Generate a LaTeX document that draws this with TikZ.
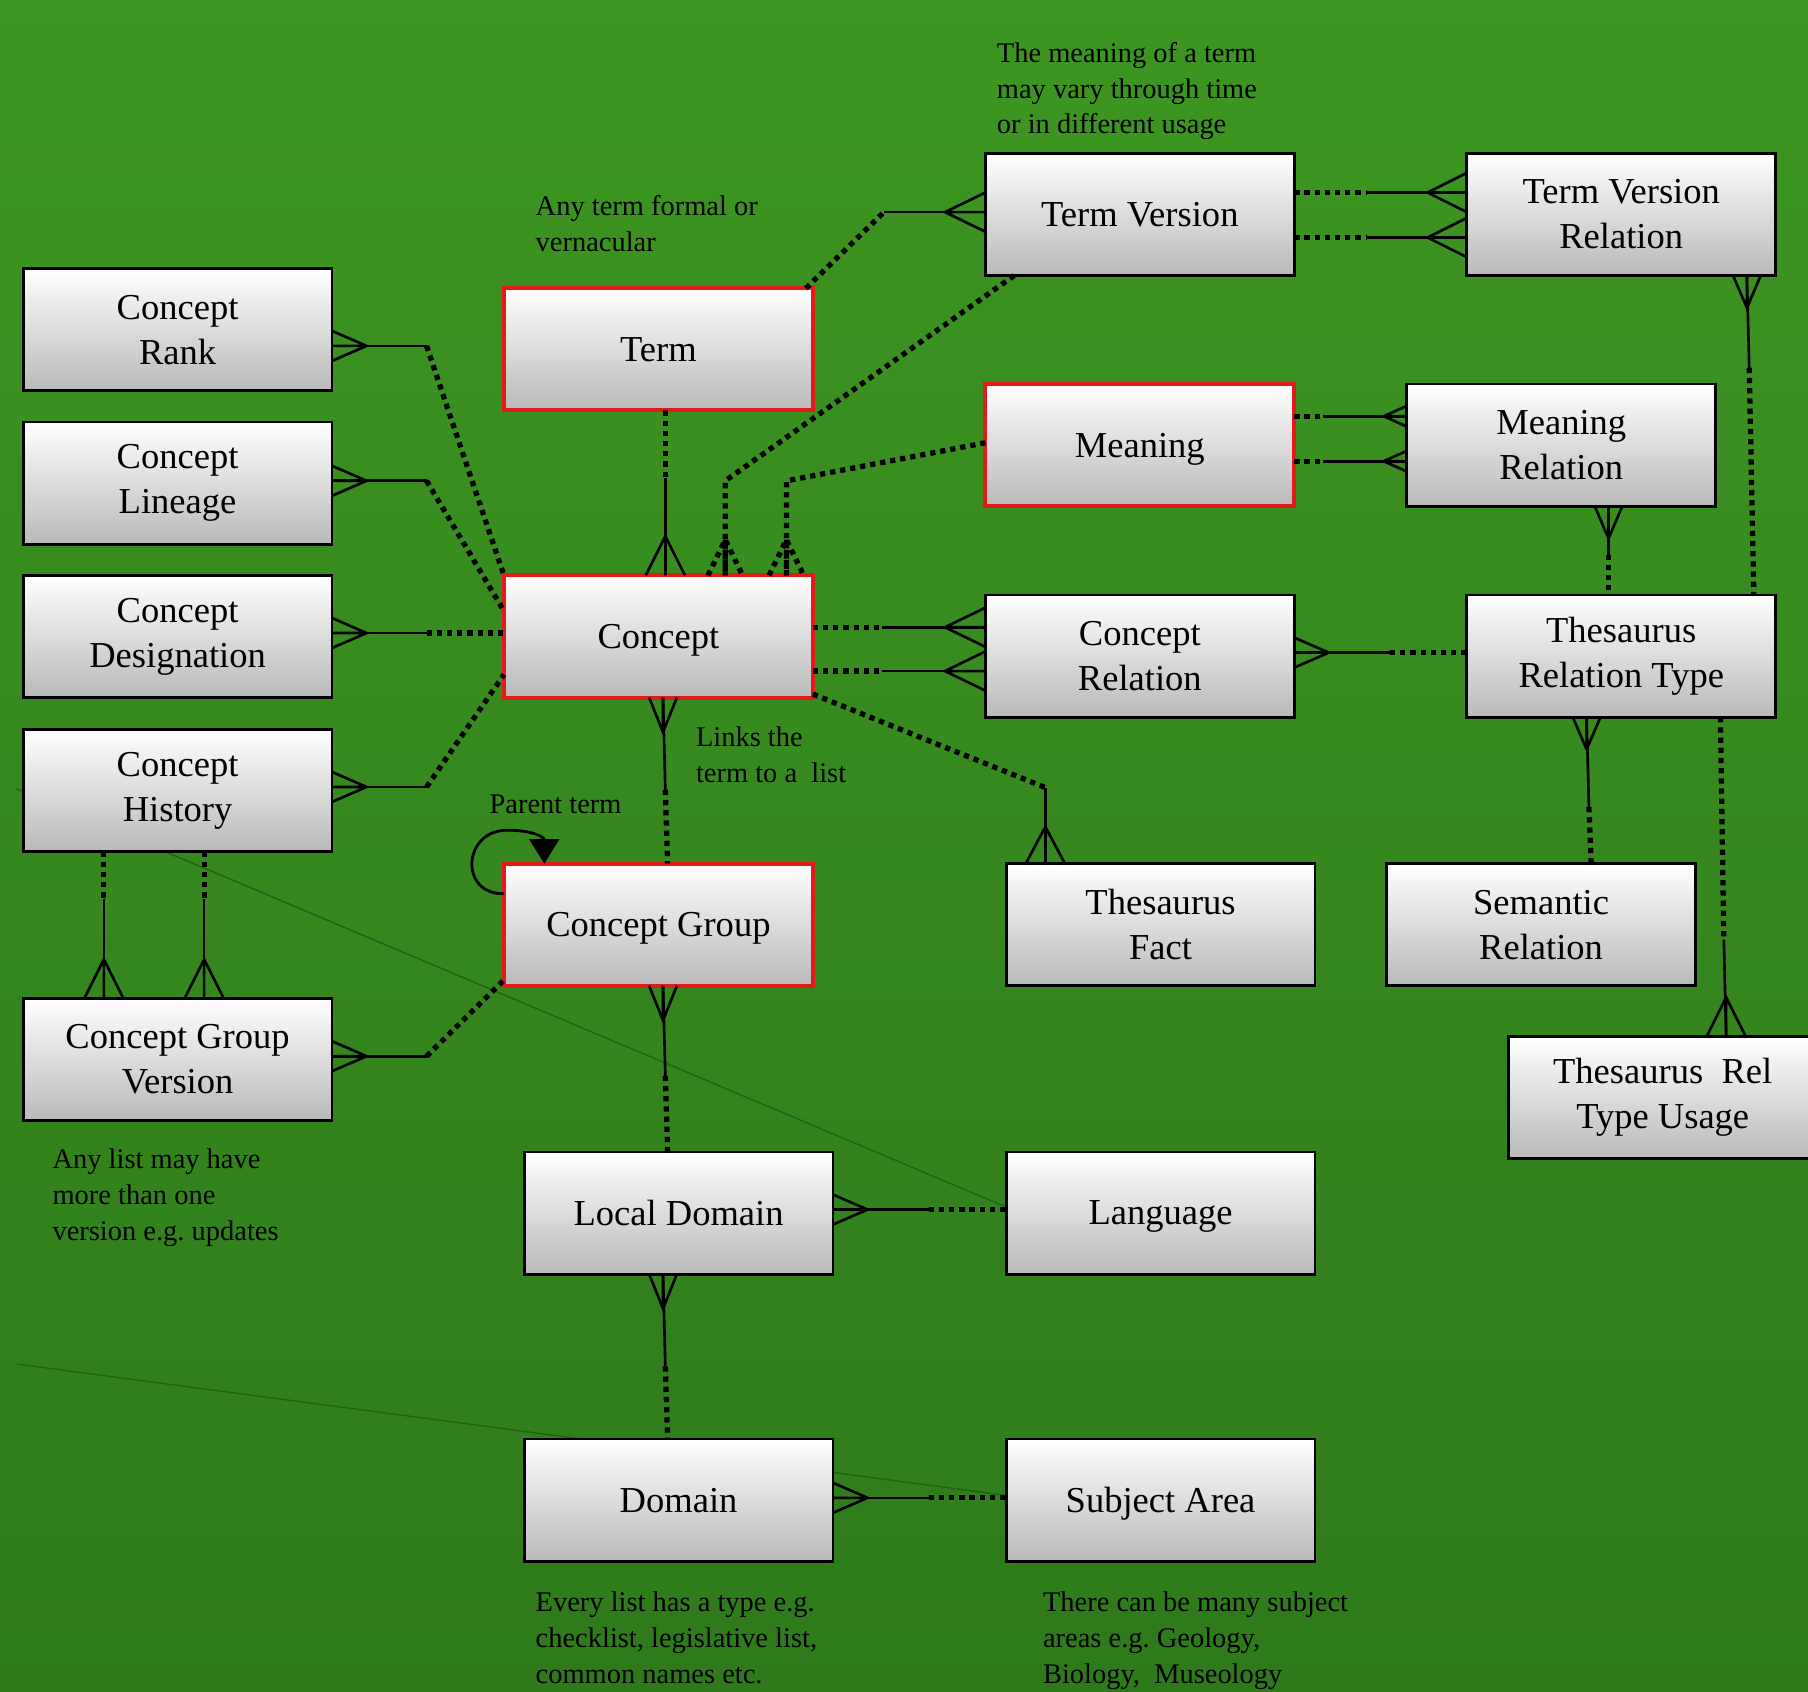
\documentclass[tikz,border=0pt]{standalone}
\usepackage{fontspec}
\setmainfont{Liberation Serif}
\usetikzlibrary{calc,arrows.meta}
\frenchspacing

\definecolor{bgtop}{RGB}{61,150,33}
\definecolor{bgbot}{RGB}{46,122,27}
\definecolor{boxbot}{RGB}{185,185,185}
\definecolor{keyred}{RGB}{226,26,26}
\definecolor{faint}{RGB}{38,96,22}

\tikzset{
  entity/.style={draw=black, line width=0.8pt, top color=white, bottom color=boxbot,
    minimum width=3.09cm, minimum height=1.222cm, inner sep=0pt, outer sep=0pt,
    align=center, font=\fontsize{10.4}{12.8}\selectfont},
  keyentity/.style={entity, draw=keyred, line width=1.15pt},
  flat/.style={text depth=0pt},
  note/.style={anchor=north west, align=left, inner sep=0pt,
    font=\fontsize{8.1}{10.2}\selectfont},
  solidlink/.style={solid, line width=0.75pt},
  optlink/.style={line width=1.5pt, dash pattern=on 1.5pt off 1.4pt},
  pics/crow/.style n args={3}{code={
    \draw[#3] (0,-#2) -- (#1,0) -- (0,#2) (0,0) -- (#1,0);}},
}

\begin{document}
\begin{tikzpicture}[x=0.011531cm, y=-0.011531cm]
  \useasboundingbox (0,0) rectangle (1568,1467);
  \shade[top color=bgtop, bottom color=bgbot] (0,0) rectangle (1568,1467);

  % stray guide lines
  \draw[faint, line width=0.4pt] (14,684) -- (873,1047);
  \draw[faint, line width=0.4pt] (15,1183) -- (873,1297);

  % entities
  \node[entity] (rank)        at (154,286)    {Concept\\Rank};
  \node[entity] (lineage)     at (154,419)    {Concept\\Lineage};
  \node[entity] (designation) at (154,552)    {Concept\\Designation};
  \node[entity] (history)     at (154,685.5)  {Concept\\History};
  \node[entity] (cgversion)   at (154,919)    {Concept Group\\Version};

  \node[keyentity] (term)     at (571,303)    {Term};
  \node[keyentity, flat] (concept) at (571,552) {Concept};
  \node[keyentity, flat] (cgroup)  at (571,802) {Concept Group};
  \node[entity] (localdomain) at (588.5,1052) {Local Domain};
  \node[entity] (domain)      at (588.5,1301) {Domain};

  \node[entity] (termversion) at (988.5,186)  {Term Version};
  \node[keyentity, flat] (meaning) at (988.5,386) {Meaning};
  \node[entity] (conceptrel)  at (988.5,569)  {Concept\\Relation};
  \node[entity] (thesfact)    at (1006.5,802) {Thesaurus\\Fact};
  \node[entity, flat] (language)    at (1006.5,1052) {Language};
  \node[entity, flat] (subjectarea) at (1006.5,1301) {Subject Area};

  \node[entity] (tvrelation)  at (1406,186)   {Term Version\\Relation};
  \node[entity] (meaningrel)  at (1354,386)   {Meaning\\Relation};
  \node[entity] (threltype)   at (1406,569)   {Thesaurus\\Relation Type};
  \node[entity] (semantic)    at (1336.5,802) {Semantic\\Relation};
  \node[entity] (reltypeusage) at (1442,952)  {Thesaurus \ Rel\\Type Usage};

  % notes
  \node[note] (tvnote)      at (864,36)    {The meaning of a term\\may vary through time\\or in different usage};
  \node[note] (termnote)    at (464,169)   {Any term formal or\\vernacular};
  \node[note] (linksnote)   at (603,630)   {Links the\\term to a \ list};
  \node[note] (parentnote)  at (424,689)   {Parent term};
  \node[note] (cgvnote)     at (45,996)    {Any list may have\\more than one\\version e.g. updates};
  \node[note] (domainnote)  at (464,1380)  {Every list has a type e.g.\\checklist, legislative list,\\common names etc.};
  \node[note] (subjectnote) at (904,1380)  {There can be many subject\\areas e.g. Geology,\\Biology, \ Museology};

  % concept satellites on the left
  \draw[solidlink] ($(rank.east)+(0,14)$) pic{crow={30}{13}{solidlink}} -- ++(82,0) coordinate (rk);
  \draw[optlink] (rk) -- (concept.north west);
  \draw[solidlink] ($(lineage.east)+(0,-2)$) pic{crow={30}{13}{solidlink}} -- ++(82,0) coordinate (ln);
  \draw[optlink] (ln) -- ($(concept.west)+(0,-22)$);
  \draw[solidlink] ($(designation.east)+(0,-3)$) pic{crow={30}{13}{solidlink}} -- ++(82,0) coordinate (ds);
  \draw[optlink] (ds) -- ($(concept.west)+(0,-3)$);
  \draw[solidlink] ($(history.east)+(0,-3)$) pic{crow={30}{13}{solidlink}} -- ++(82,0) coordinate (hs);
  \draw[optlink] (hs) -- ($(concept.west)+(0,33)$);
  \draw[solidlink] ($(cgversion.east)+(0,-3)$) pic{crow={30}{13}{solidlink}} -- ++(82,0) coordinate (cv);
  \draw[optlink] (cv) -- ($(cgroup.south west)+(0,-5)$);

  % history to group version
  \draw[optlink] ($(history.south west)+(70,0)$) -- ++(0,41) coordinate (h1);
  \draw[solidlink] (h1) -- ($(cgversion.north west)+(70,0)$) pic[rotate=90]{crow={34}{17}{solidlink}};
  \draw[optlink] ($(history.south west)+(157,0)$) -- ++(0,41) coordinate (h2);
  \draw[solidlink] (h2) -- ($(cgversion.north west)+(157,0)$) pic[rotate=90]{crow={34}{17}{solidlink}};

  % term, term version, meaning into concept
  \draw[optlink] ($(term.south)+(6,0)$) -- ++(0,59) coordinate (t1);
  \draw[solidlink] (t1) -- ($(concept.north)+(6,0)$) pic[rotate=90]{crow={34}{17}{solidlink}};
  \draw[optlink] ($(termversion.south west)+(25,0)$) -- ($(concept.north)+(58,-82)$)
    -- ($(concept.north)+(58,0)$) pic[rotate=90]{crow={31}{15}{optlink}};
  \draw[optlink] ($(meaning.west)+(0,-2)$) -- ($(concept.north)+(111,-82)$)
    -- ($(concept.north)+(111,0)$) pic[rotate=90]{crow={31}{15}{optlink}};

  % term to term version
  \draw[optlink] ($(term.north east)+(-6,0)$) -- ($(termversion.west)+(-88,-2)$) coordinate (tv);
  \draw[solidlink] (tv) -- ($(termversion.west)+(0,-2)$) pic[rotate=180]{crow={35}{17}{solidlink}};

  % term version relation
  \draw[optlink] ($(termversion.east)+(0,-19)$) -- ++(63,0) coordinate (tr1);
  \draw[solidlink] (tr1) -- ($(tvrelation.west)+(0,-19)$) pic[rotate=180]{crow={34}{17}{solidlink}};
  \draw[optlink] ($(termversion.east)+(0,20)$) -- ++(63,0) coordinate (tr2);
  \draw[solidlink] (tr2) -- ($(tvrelation.west)+(0,20)$) pic[rotate=180]{crow={34}{17}{solidlink}};

  % meaning relation
  \draw[optlink] ($(meaning.east)+(0,-25)$) -- ++(25,0) coordinate (mr1);
  \draw[solidlink] (mr1) -- ($(meaningrel.west)+(0,-25)$) pic[rotate=180]{crow={20}{9}{solidlink}};
  \draw[optlink] ($(meaning.east)+(0,14)$) -- ++(25,0) coordinate (mr2);
  \draw[solidlink] (mr2) -- ($(meaningrel.west)+(0,14)$) pic[rotate=180]{crow={20}{9}{solidlink}};

  % concept relation
  \draw[optlink] ($(concept.east)+(0,-8)$) -- ++(60,0) coordinate (cr1);
  \draw[solidlink] (cr1) -- ($(conceptrel.west)+(0,-25)$) pic[rotate=180]{crow={35}{17}{solidlink}};
  \draw[optlink] ($(concept.east)+(0,30)$) -- ++(60,0) coordinate (cr2);
  \draw[solidlink] (cr2) -- ($(conceptrel.west)+(0,13)$) pic[rotate=180]{crow={35}{17}{solidlink}};

  % thesaurus fact
  \draw[optlink] ($(concept.south east)+(0,-3)$) -- ($(thesfact.north west)+(34,-66)$) coordinate (tf);
  \draw[solidlink] (tf) -- ($(thesfact.north west)+(34,0)$) pic[rotate=90]{crow={32}{17}{solidlink}};

  % thesaurus relation type links
  \draw[solidlink] ($(conceptrel.east)+(0,-3)$) pic{crow={30}{13}{solidlink}} -- ++(83,0) coordinate (rt1);
  \draw[optlink] (rt1) -- ($(threltype.west)+(0,-3)$);
  \draw[solidlink] ($(tvrelation.south)+(109,0)$) pic[rotate=-90]{crow={28}{12}{solidlink}} -- ++(2,80) coordinate (rt2);
  \draw[optlink] (rt2) -- ($(threltype.north)+(115,0)$);
  \draw[solidlink] ($(meaningrel.south)+(41,0)$) pic[rotate=-90]{crow={28}{12}{solidlink}} -- ++(0,42) coordinate (rt3);
  \draw[optlink] (rt3) -- ($(threltype.north)+(-11,0)$);
  \draw[solidlink] ($(threltype.south)+(-30,0)$) pic[rotate=-90]{crow={28}{12}{solidlink}} -- ++(2,78) coordinate (rt4);
  \draw[optlink] (rt4) -- ($(semantic.north)+(43.5,0)$);
  \draw[optlink] ($(threltype.south)+(86,0)$) -- ++(3,193) coordinate (rt5);
  \draw[solidlink] (rt5) -- ($(reltypeusage.north)+(55,0)$) pic[rotate=90]{crow={34}{17}{solidlink}};

  % central column
  \draw[solidlink] ($(concept.south)+(4,0)$) pic[rotate=-90]{crow={30}{12}{solidlink}} -- ++(2,80) coordinate (cg);
  \draw[optlink] (cg) -- ($(cgroup.north)+(8,0)$);
  \draw[solidlink] ($(cgroup.south)+(4,0)$) pic[rotate=-90]{crow={30}{12}{solidlink}} -- ++(2,78) coordinate (ld);
  \draw[optlink] (ld) -- ($(localdomain.north)+(-9.5,0)$);
  \draw[solidlink] ($(localdomain.south)+(-13.5,0)$) pic[rotate=-90]{crow={30}{12}{solidlink}} -- ++(2,80) coordinate (dm);
  \draw[optlink] (dm) -- ($(domain.north)+(-9.5,0)$);

  % language and subject area
  \draw[solidlink] ($(localdomain.east)+(0,-3)$) pic{crow={30}{13}{solidlink}} -- ++(83,0) coordinate (lg);
  \draw[optlink] (lg) -- ($(language.west)+(0,-3)$);
  \draw[solidlink] ($(domain.east)+(0,-2)$) pic{crow={30}{13}{solidlink}} -- ++(83,0) coordinate (sa);
  \draw[optlink] (sa) -- ($(subjectarea.west)+(0,-2)$);

  % parent term loop
  \draw[line width=0.8pt, -{Triangle[length=7pt,width=8.5pt]}] ($(cgroup.west)+(0,-27)$)
    .. controls (398,776) and (401,720) .. (440,720)
    .. controls (462,720) and (472,726) .. ($(cgroup.north west)+(35,0)$);
\end{tikzpicture}
\end{document}
